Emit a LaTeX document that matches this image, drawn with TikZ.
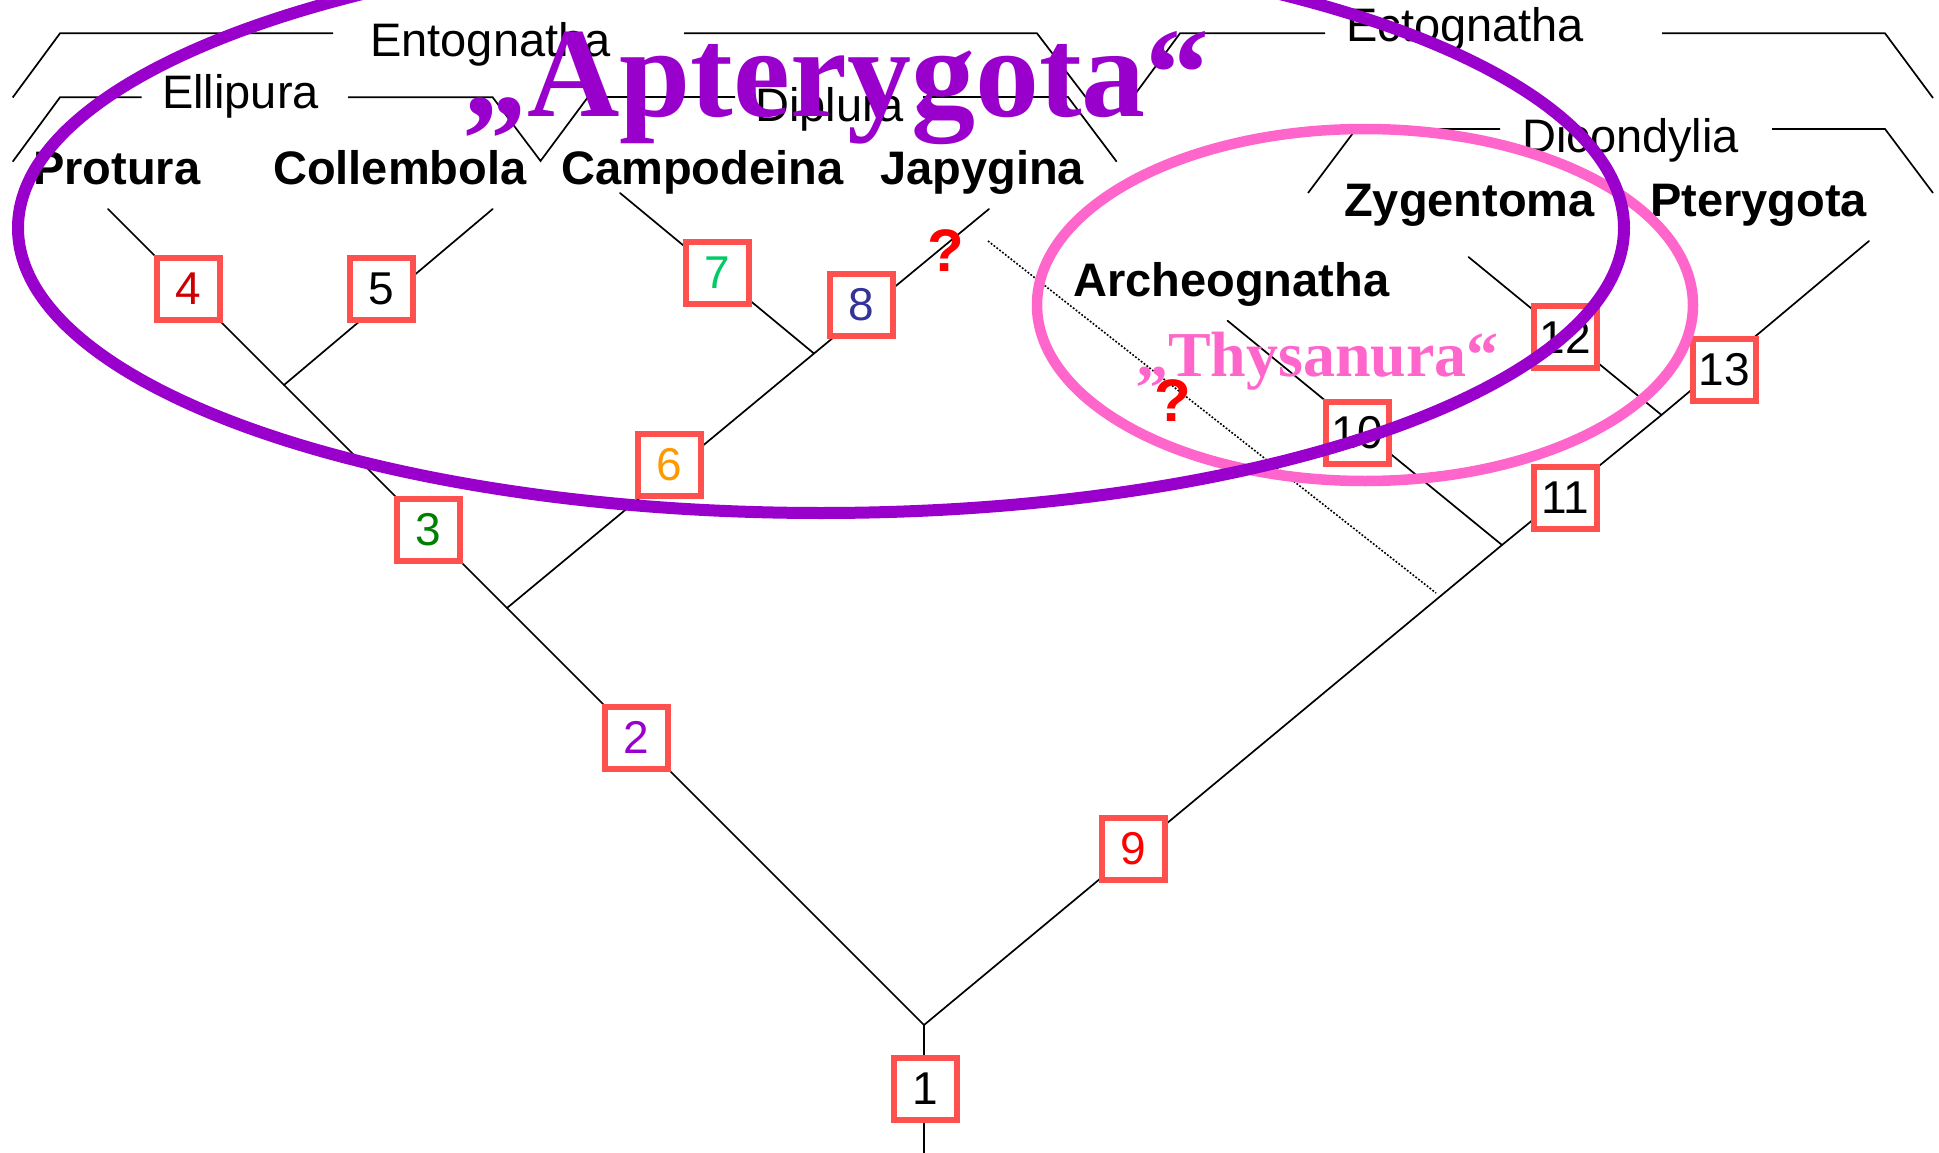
\documentclass[tikz,border=0pt]{standalone}
\usepackage{fontspec}
\setmainfont{Liberation Sans}
\newfontfamily\serifbold{Liberation Serif}
\definecolor{boxred}{HTML}{FF5050}
\definecolor{aptcol}{HTML}{9900CC}
\definecolor{thycol}{HTML}{FF66CC}
\definecolor{c3}{HTML}{008000}
\definecolor{c4}{HTML}{CC0000}
\definecolor{c6}{HTML}{FF9900}
\definecolor{c7}{HTML}{00CC66}
\definecolor{c8}{HTML}{333399}
\definecolor{c9}{HTML}{FF0000}
\tikzset{
  branch/.style={line width=1.7pt, line cap=round},
  bracket/.style={line width=1.7pt},
  dotline/.style={line width=1.6pt, dash pattern=on 1.8pt off 1.8pt},
  numbox/.style={draw=boxred, line width=6pt, fill=white, minimum width=63pt,
    minimum height=62pt, inner sep=0pt, font=\fontsize{46}{46}\selectfont},
  taxon/.style={anchor=base west, inner sep=0pt, font=\fontsize{47}{56}\selectfont\bfseries},
  clade/.style={anchor=base west, inner sep=0pt, font=\fontsize{47}{56}\selectfont},
  qmark/.style={inner sep=0pt, text=c9, font=\fontsize{60}{60}\selectfont\bfseries},
}
\begin{document}
\begin{tikzpicture}[x=1pt,y=-1pt]
\useasboundingbox (0,0) rectangle (1939,1153);
\clip (0,0) rectangle (1939,1153);
% ---- brackets ----
\draw[bracket] (12.7,97.5) -- (60,33.3) -- (333,33.3);
\draw[bracket] (684,33.3) -- (1037,33.3) -- (1086,97.5);
\draw[bracket] (12.7,161.7) -- (60,97.3) -- (141.7,97.3);
\draw[bracket] (348,97.3) -- (492.7,97.3) -- (540.5,161) -- (588,97) -- (735,97);
\draw[bracket] (923,97) -- (1068,97) -- (1116.7,161.7);
\draw[bracket] (1133,97) -- (1180,33.3) -- (1325,33.3);
\draw[bracket] (1662,33.3) -- (1885,33.3) -- (1933,98);
\draw[bracket] (1308,193) -- (1356,129) -- (1500,129);
\draw[bracket] (1772,129) -- (1885,129) -- (1933,193);
% ---- tree coordinates ----
\coordinate (bottom) at (924,1153);
\coordinate (root) at (924,1025);
\coordinate (tProt) at (108,209);
\coordinate (J3) at (507,608);
\coordinate (J45) at (284,385);
\coordinate (tColl) at (492.7,209);
\coordinate (J78) at (814,353.5);
\coordinate (tJapy) at (989,209);
\coordinate (tCamp) at (620,193);
\coordinate (J10) at (1502,545);
\coordinate (J12) at (1661.5,415);
\coordinate (tPter) at (1869,241);
\coordinate (tArch) at (1227.5,320.7);
\coordinate (tZyg) at (1468.5,257);
\coordinate (dotA) at (988,241);
\coordinate (dotB) at (1436,593);
% ---- tree ----
\draw[branch] (bottom) -- (root);
\draw[branch] (root) -- (J3) -- (J45) -- (tProt);
\draw[branch] (J45) -- (tColl);
\draw[branch] (J3) -- (J78) -- (tJapy);
\draw[branch] (J78) -- (tCamp);
\draw[branch] (root) -- (J10) -- (J12) -- (tPter);
\draw[branch] (J10) -- (tArch);
\draw[branch] (J12) -- (tZyg);
\draw[dotline] (dotA) -- (dotB);
% ---- numbered boxes ----
\node[numbox] (b1) at (925,1089) {1};
\node[numbox, text=aptcol] (b2) at (636.6,737.5) {2};
\node[numbox, text=c3] (b3) at (428,529.5) {3};
\node[numbox, text=c4] (b4) at (188,289) {4};
\node[numbox] (b5) at (381,289) {5};
\node[numbox, text=c6] (b6) at (669,465) {6};
\node[numbox, text=c7] (b7) at (717,273) {7};
\node[numbox, text=c8] (b8) at (861,305) {8};
\node[numbox, text=c9] (b9) at (1133,849) {9};
\node[numbox] (b10) at (1357,433) {10};
\node[numbox] (b11) at (1565,497.5) {11};
\node[numbox] (b12) at (1565,337) {12};
\node[numbox] (b13) at (1724,369.5) {13};
% ---- taxon names ----
\node[taxon] (prot) at (33,185) {Protura};
\node[taxon] (coll) at (273,185) {Collembola};
\node[taxon] (camp) at (561,185) {Campodeina};
\node[taxon] (japy) at (880,185) {Japygina};
\node[taxon] (zyg) at (1344,216.7) {Zygentoma};
\node[taxon] (pter) at (1650,216.7) {Pterygota};
\node[taxon] (arch) at (1073,296.7) {Archeognatha};
% ---- clade names ----
\node[clade] (ento) at (370,56.7) {Entognatha};
\node[clade] (elli) at (162,108.3) {Ellipura};
\node[clade] (dipl) at (755,121.7) {Diplura};
\node[clade] (ecto) at (1346,41.7) {Ectognatha};
\node[clade] (dico) at (1522,152.3) {Dicondylia};
% ---- question marks ----
\node[qmark] (q1) at (945.5,250.5) {?};
\node[qmark] (q2) at (1173,401) {?};
% ---- ellipses ----
\draw[thycol, line width=10.5pt] (1365,305) ellipse [x radius=328pt, y radius=176pt];
\draw[aptcol, line width=12pt] (821,228) ellipse [x radius=803pt, y radius=285pt];
% ---- group names ----
\node[anchor=base west, inner sep=0pt, text=thycol, font=\serifbold\fontsize{64}{64}\selectfont\bfseries] (thys) at (1136,376.7) {„Thysanura“};
\node[anchor=base west, inner sep=0pt, text=aptcol, font=\serifbold\fontsize{128}{128}\selectfont\bfseries] (apt) at (463,117) {„Apterygota“};
\end{tikzpicture}
\end{document}
